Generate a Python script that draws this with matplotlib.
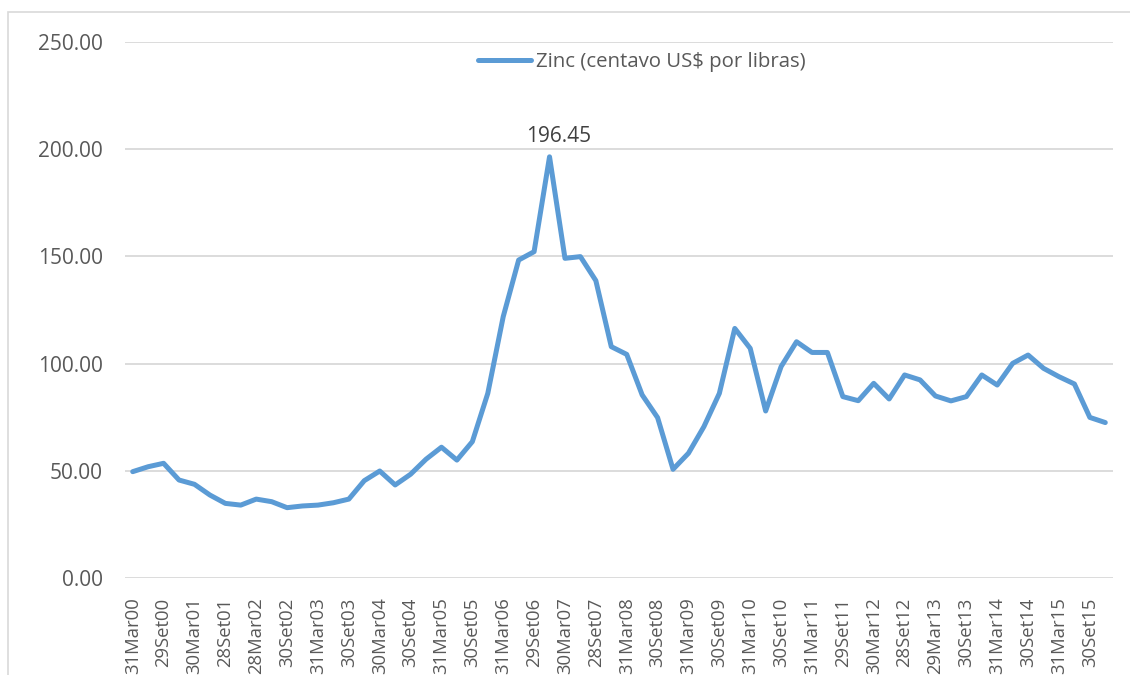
"""Zinc price (US cents per pound), quarterly 2000-2015, Excel-style line chart."""

import matplotlib

matplotlib.use("Agg")
import matplotlib.pyplot as plt
from matplotlib.patches import Rectangle

# Quarterly values, 31Mar00 .. 31Dec15
zinc = [
    49.6, 51.9, 53.5, 45.7, 43.7, 38.7, 34.8, 34.0,
    36.8, 35.6, 32.8, 33.6, 34.0, 35.1, 36.8, 45.4,
    49.9, 43.4, 48.4, 55.4, 61.0, 55.0, 63.6, 86.1,
    121.9, 148.3, 152.2, 196.45, 149.1, 149.9, 138.7, 107.9,
    104.3, 85.4, 74.8, 50.7, 58.2, 70.6, 86.1, 116.4,
    107.1, 77.9, 98.6, 110.2, 105.2, 105.2, 84.6, 82.7,
    90.8, 83.5, 94.7, 92.4, 84.9, 82.6, 84.6, 94.7,
    90.0, 100.1, 104.0, 97.8, 93.9, 90.5, 74.9, 72.5,
]

# every other quarter gets a label
tick_labels = [
    "31Mar00", "29Set00", "30Mar01", "28Set01", "28Mar02", "30Set02",
    "31Mar03", "30Set03", "30Mar04", "30Set04", "31Mar05", "30Set05",
    "31Mar06", "29Set06", "30Mar07", "28Set07", "31Mar08", "30Set08",
    "31Mar09", "30Set09", "31Mar10", "30Set10", "31Mar11", "29Set11",
    "30Mar12", "28Set12", "29Mar13", "30Set13", "31Mar14", "30Set14",
    "31Mar15", "30Set15",
]

y_ticks = [0, 50, 100, 150, 200, 250]
series_name = "Zinc (centavo US$ por libras)"

LINE = "#5B9BD5"
GRID = "#D9D9D9"
TEXT = "#595959"
W, H = 1130, 675

plt.rcParams["font.family"] = ["Open Sans", "DejaVu Sans"]

fig = plt.figure(figsize=(W / 100, H / 100), dpi=100)
ax = fig.add_axes([125 / W, 1 - 578 / H, 988 / W, 536 / H])

x = list(range(len(zinc)))
ax.plot(x, zinc, color=LINE, lw=3.6, solid_joinstyle="round",
        solid_capstyle="round", label=series_name, zorder=3)

peak = max(range(len(zinc)), key=lambda i: zinc[i])
ax.annotate(f"{zinc[peak]:.2f}", (peak, zinc[peak]), xytext=(9, 10),
            textcoords="offset pixels", ha="center", va="bottom",
            fontsize=15, color="#404040")

ax.set_xlim(-0.5, len(zinc) - 0.5)
ax.set_ylim(0, 250)
ax.set_yticks(y_ticks)
ax.set_yticklabels([f"{v:.2f}" for v in y_ticks])
ax.set_xticks(x[::2])
ax.set_xticklabels(tick_labels, rotation=90, va="top", ha="center")

ax.grid(axis="y", color=GRID, lw=1.3)
ax.set_axisbelow(True)
for side in ax.spines.values():
    side.set_visible(False)
ax.tick_params(axis="both", length=0, colors=TEXT)
ax.tick_params(axis="y", labelsize=15, pad=16)
ax.tick_params(axis="x", labelsize=13.3, pad=14)

ax.legend(loc="center", bbox_to_anchor=(642 / W, 1 - 62 / H),
          bbox_transform=fig.transFigure, frameon=False, fontsize=14.7,
          handlelength=2.6, handletextpad=0.25, labelcolor=TEXT)

# chart-area border (runs off the right and bottom edges)
fig.patches.append(Rectangle((7.5 / W, -0.1), 2, 1 - 12 / H + 0.1,
                             transform=fig.transFigure, fill=False,
                             edgecolor=GRID, lw=1.2))

fig.savefig("out.png", dpi=100)
